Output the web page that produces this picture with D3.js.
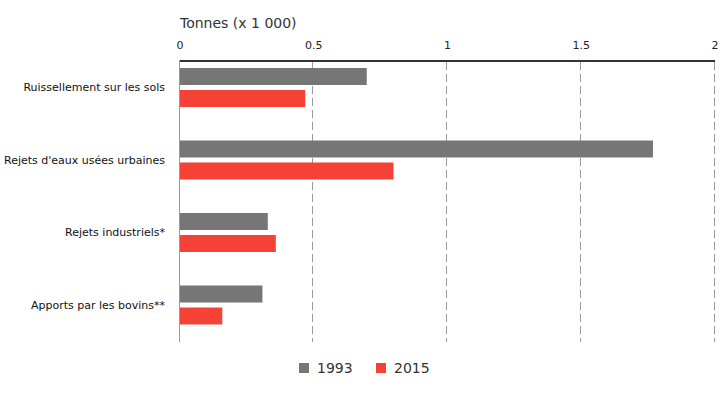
<!DOCTYPE html>
<html>
<head>
<meta charset="utf-8">
<title>Tonnes</title>
<script src="https://d3js.org/d3.v7.min.js"></script>
<style>
  body { margin: 0; background: #fff; }
  text { font-family: "DejaVu Sans", Verdana, sans-serif; }
  .grid line { stroke: #9a9a9a; stroke-dasharray: 8,4; }
</style>
</head>
<body>
<script>
  // data
  var categories = ["Ruissellement sur les sols", "Rejets d'eaux usées urbaines", "Rejets industriels*", "Apports par les bovins**"];
  var series = ["1993", "2015"];
  var values1993 = [0.70, 1.77, 0.33, 0.31];
  var values2015 = [0.47, 0.80, 0.36, 0.16];
  var ticks = [0, 0.5, 1, 1.5, 2];
  var colors = ["#767676", "#f44336"];

  var w = 725, h = 400;
  var svg = d3.select("body").append("svg").attr("width", w).attr("height", h);

  var x = d3.scaleLinear().domain([0, 2]).range([179.5, 714.5]);
  var y = d3.scaleBand().domain(categories).range([51.25, 341.25]);

  var barH = 17, gap = 5;

  // title
  svg.append("text").attr("x", 180).attr("y", 28)
    .style("font-size", "14px").attr("fill", "#333").text("Tonnes (x 1 000)");

  // dashed grid lines
  svg.append("g").attr("class", "grid")
    .selectAll("line").data(ticks.slice(1)).enter().append("line")
    .attr("x1", function(d) { return Math.round(x(d)) - 0.5; })
    .attr("x2", function(d) { return Math.round(x(d)) - 0.5; })
    .attr("y1", 62).attr("y2", 342);

  // left axis line
  svg.append("line").attr("x1", 179.5).attr("x2", 179.5).attr("y1", 60).attr("y2", 342)
    .attr("stroke", "#9a9a9a");

  // top axis
  var axis = svg.append("g").attr("transform", "translate(0,60.5)")
    .call(d3.axisTop(x).tickValues(ticks).tickSize(0).tickPadding(12)
      .tickFormat(function(d) { return d3.format("")(d); }));
  axis.select(".domain").attr("stroke", "#333").attr("stroke-width", 2);
  axis.selectAll("text").style("font-size", "11px").attr("fill", "#222")
    .attr("font-family", null);

  // bars
  var rows = categories.map(function(c, i) { return {cat: c, v: [values1993[i], values2015[i]]}; });
  var grp = svg.append("g").selectAll("g").data(rows).enter().append("g");
  grp.selectAll("rect").data(function(d) { return d.v; }).enter().append("rect")
    .attr("x", x(0) + 0.5)
    .attr("y", function(d, j) {
      var c = y(d3.select(this.parentNode).datum().cat) + y.bandwidth() / 2;
      return j === 0 ? c - gap / 2 - barH : c + gap / 2;
    })
    .attr("width", function(d) { return x(d) - x(0) - 0.5; })
    .attr("height", barH)
    .attr("fill", function(d, j) { return colors[j]; });

  // category labels
  svg.append("g").selectAll("text").data(categories).enter().append("text")
    .attr("x", 165)
    .attr("y", function(d) { return y(d) + y.bandwidth() / 2; })
    .attr("dy", "0.35em").attr("text-anchor", "end")
    .style("font-size", "11px").attr("fill", "#111")
    .text(function(d) { return d; });

  // legend
  var lx = [299, 376];
  var leg = svg.append("g").selectAll("g").data(series).enter().append("g")
    .attr("transform", function(d, i) { return "translate(" + lx[i] + ",363)"; });
  leg.append("rect").attr("width", 10).attr("height", 10)
    .attr("fill", function(d, i) { return colors[i]; });
  leg.append("text").attr("x", 18).attr("y", 5).attr("dy", "0.36em")
    .style("font-size", "14px").attr("fill", "#333")
    .text(function(d) { return d; });
</script>
</body>
</html>
